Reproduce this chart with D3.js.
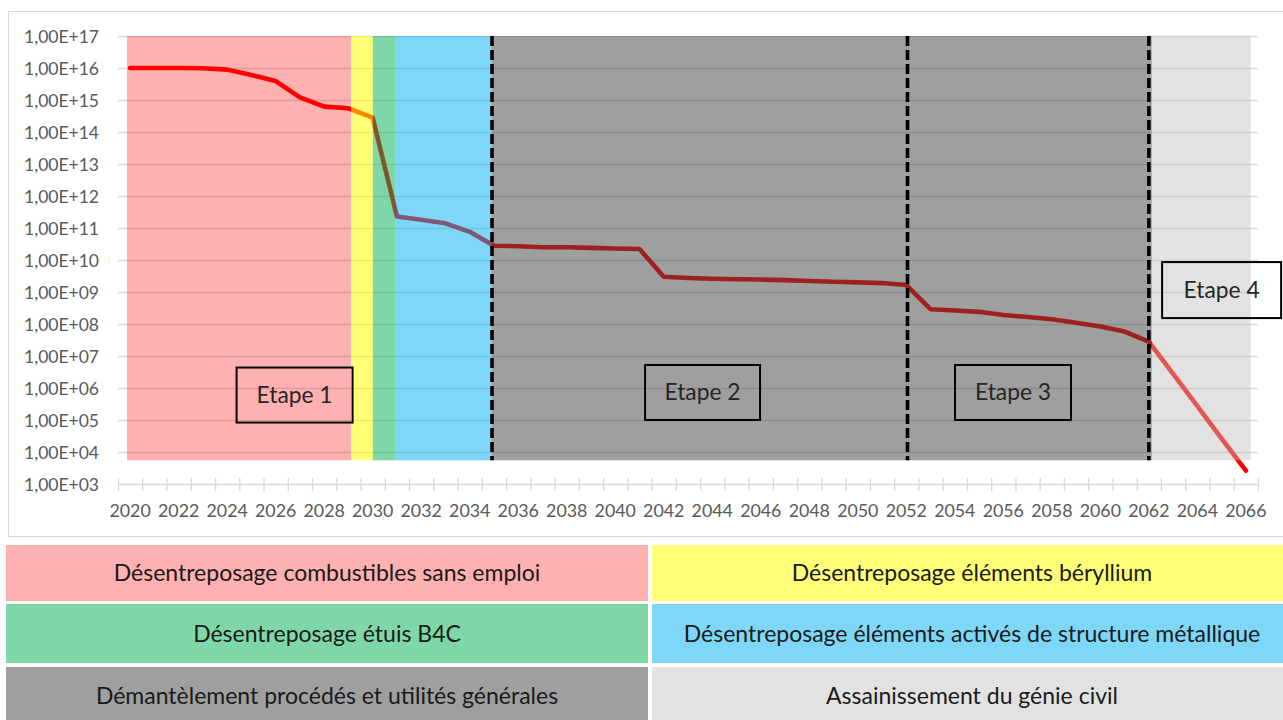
<!DOCTYPE html>
<html><head><meta charset="utf-8">
<script src="https://cdn.jsdelivr.net/npm/d3@7"></script>
<style>body{margin:0;background:#fff}svg{display:block}</style>
</head><body>
<svg id="c" width="1283" height="720"></svg>
<script>
const years = d3.range(2020, 2067);
const activity = [1e16,1e16,1e16,9.8e15,8.9e15,6e15,3.9e15,1.2e15,6.2e14,5.5e14,
  2.8e14,2.3e11,1.8e11,1.4e11,7.6e10,2.8e10,2.7e10,2.5e10,2.5e10,2.4e10,2.3e10,2.2e10,
  3.0e9,2.75e9,2.6e9,2.5e9,2.45e9,2.35e9,2.2e9,2.1e9,2.0e9,1.9e9,1.65e9,
  2.9e8,2.65e8,2.4e8,1.9e8,1.65e8,1.4e8,1.1e8,8.3e7,5.8e7,2.8e7,
  2.75e6,2.7e5,2.6e4,2.6e3];
const phaseNames = ["Désentreposage combustibles sans emploi","Désentreposage éléments béryllium",
  "Désentreposage étuis B4C","Désentreposage éléments activés de structure métallique",
  "Démantèlement procédés et utilités générales","Assainissement du génie civil"];
const phaseStart = [2019.87, 2029.11, 2030.01, 2030.94, 2034.9, 2062.12];
const phaseEnd   = [2029.11, 2030.01, 2030.94, 2034.9, 2062.12, 2066.2];
const phaseColors = ["#FF0000","#FFFF00","#00B050","#00B0F0","#404040","#BFBFBF"];
const phaseOpacity = [0.31,0.53,0.5,0.5,0.5,0.45];
const stageLimits = [2034.92, 2052.05, 2062.0];
const stageLabels = ["Etape 1","Etape 2","Etape 3","Etape 4"];
const yTickExps = d3.range(3, 18);
const xTickYears = d3.range(2020, 2067, 2);

const svg = d3.select("#c");
const FONT = "Lato, 'Open Sans', sans-serif";
const x = d3.scaleLinear().domain([2019.5, 2066.5]).range([118, 1258]);
const y = d3.scaleLog().domain([1e3, 1e17]).range([484, 36]);
const bandBottom = 5.5e3;

// frame
svg.append("rect").attr("x",8.5).attr("y",11.5).attr("width",1290).attr("height",525)
  .attr("fill","#fff").attr("stroke","#d9d9d9").attr("stroke-width",1);

// gridlines
svg.append("g").selectAll("line").data(yTickExps.filter(e=>e>3)).join("line")
  .attr("x1",118).attr("x2",1258)
  .attr("y1",e=>Math.round(y(Math.pow(10,e)))+0.5).attr("y2",e=>Math.round(y(Math.pow(10,e)))+0.5)
  .attr("stroke","#d9d9d9").attr("stroke-width",1.3);

// x axis
const xAxis = d3.axisBottom(x)
  .tickValues(d3.range(2019.5, 2067, 1)).tickSize(7).tickSizeOuter(0).tickFormat("");
const gx = svg.append("g").attr("transform",`translate(0,${y(1e3)})`).call(xAxis);
gx.select(".domain").attr("stroke","#d9d9d9").attr("stroke-width",1.3);
gx.selectAll(".tick line").attr("stroke","#d9d9d9").attr("stroke-width",1.3).attr("y1",-6);
svg.append("g").selectAll("text").data(xTickYears).join("text")
  .attr("x",d=>x(d)).attr("y",517).attr("text-anchor","middle")
  .attr("font-family",FONT).attr("font-size",17.8).attr("fill","#595959").text(d=>d);

// y axis labels
const yAxis = d3.axisLeft(y).tickValues(yTickExps.map(e=>Math.pow(10,e))).tickSize(0)
  .tickFormat(v=>"1,00E+"+String(Math.round(Math.log10(v))).padStart(2,"0"));
const gy = svg.append("g").attr("transform","translate(106,0)").call(yAxis);
gy.select(".domain").remove();
gy.selectAll("text").attr("font-family",FONT).attr("font-size",17.5).attr("fill","#595959")
  .attr("x",-7).attr("dy","0.35em");

// line
const line = d3.line().x((d,i)=>x(years[i])).y(d=>y(d));
svg.append("path").datum(activity).attr("d",line).attr("fill","none")
  .attr("stroke","#FF0000").attr("stroke-width",4.6).attr("stroke-linejoin","round").attr("stroke-linecap","round");

// phase bands (semi-transparent over line)
svg.append("g").selectAll("rect").data(phaseNames).join("rect")
  .attr("x",(d,i)=>x(phaseStart[i])).attr("width",(d,i)=>x(phaseEnd[i])-x(phaseStart[i]))
  .attr("y",y(1e17)).attr("height",y(bandBottom)-y(1e17))
  .attr("fill",(d,i)=>phaseColors[i]).attr("fill-opacity",(d,i)=>phaseOpacity[i]);

// stage limits
svg.append("g").selectAll("line").data(stageLimits).join("line")
  .attr("x1",d=>x(d)).attr("x2",d=>x(d)).attr("y1",y(1e17)).attr("y2",y(bandBottom))
  .attr("stroke","#000").attr("stroke-width",3.6).attr("stroke-dasharray","10,4");

// stage boxes (centre year, centre log-value, width, height)
const boxes = [[2026.78,5.78,116,55],[2043.6,5.86,115,55],[2056.4,5.86,116,55],[2065.0,9.06,119,56]];
const gb = svg.append("g");
stageLabels.forEach((t,i)=>{
  const [yr,lv,w,h] = boxes[i];
  const cx = x(yr), cy = y(Math.pow(10,lv));
  gb.append("rect").attr("x",cx-w/2).attr("y",cy-h/2).attr("width",w).attr("height",h)
    .attr("fill","none").attr("stroke","#000").attr("stroke-width",2);
  gb.append("text").attr("x",cx).attr("y",cy).attr("dy","0.35em").attr("text-anchor","middle")
    .attr("font-family",FONT).attr("font-size",22.8).attr("fill","#262626").text(t);
});

// legend cells
const cellX = [6, 652], cellW = [642, 640];
const rowY = [545, 604, 667], rowH = [56, 59, 58];
const lg = svg.append("g");
phaseNames.forEach((n,i)=>{
  const c = i%2, r = Math.floor(i/2);
  lg.append("rect").attr("x",cellX[c]).attr("y",rowY[r]).attr("width",cellW[c]).attr("height",rowH[r])
    .attr("fill",phaseColors[i]).attr("fill-opacity",phaseOpacity[i]);
  lg.append("text").attr("x",cellX[c]+cellW[c]/2).attr("y",rowY[r]+rowH[r]/2).attr("dy","0.35em")
    .attr("text-anchor","middle").attr("font-family",FONT).attr("font-size",23).attr("fill","#1a1a1a").text(n);
});
</script>
</body></html>
